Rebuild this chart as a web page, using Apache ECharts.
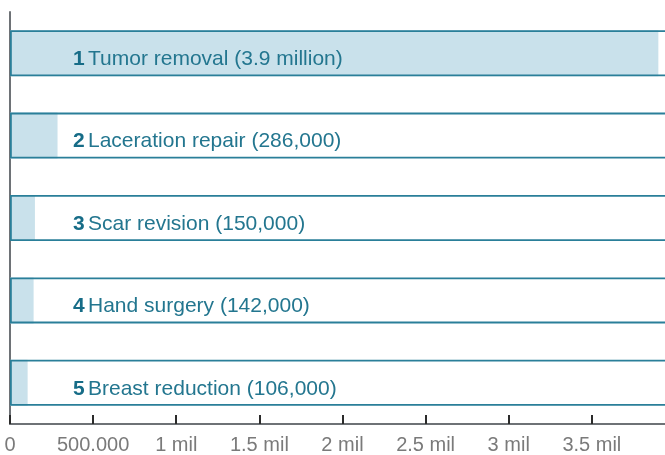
<!DOCTYPE html>
<html>
<head>
<meta charset="utf-8">
<script src="https://cdn.jsdelivr.net/npm/echarts@6/dist/echarts.min.js"></script>
<style>
  html, body { margin: 0; padding: 0; background: #fff; }
  #chart { width: 665px; height: 455px; }
</style>
</head>
<body>
<div id="chart"></div>
<script>
// procedures, top to bottom
var ranks = ["1", "2", "3", "4", "5"];
var procedures = ["Tumor removal", "Laceration repair", "Scar revision", "Hand surgery", "Breast reduction"];
var valueLabels = ["3.9 million", "286,000", "150,000", "142,000", "106,000"];
var counts = [3900000, 286000, 150000, 142000, 106000];
var axisMax = 3940000;

// full-width band behind each bar (runs past the right edge)
var frame = counts.map(function () { return axisMax * 1.03; });

var font = "Liberation Sans";

var chart = echarts.init(document.getElementById("chart"));
chart.setOption({
  animation: false,
  grid: { left: 10, right: 0, top: 12, bottom: 31 },
  xAxis: {
    type: "value",
    min: 0,
    max: axisMax,
    interval: 500000,
    axisLine: { show: true, lineStyle: { color: "#6e7276", width: 2 } },
    axisTick: { show: true, inside: true, length: 9, lineStyle: { color: "#2b2b2b", width: 2 } },
    splitLine: { show: false },
    axisLabel: {
      showMaxLabel: false,
      margin: 11,
      color: "#7a7a7a",
      fontFamily: font,
      fontSize: 20,
      formatter: function (v) {
        if (v === 0) return "0";
        if (v === 500000) return "500.000";
        if (v % 500000 !== 0) return "";
        return (v / 1000000) + " mil";
      }
    }
  },
  yAxis: {
    type: "category",
    inverse: true,
    data: procedures,
    axisLine: { show: true, lineStyle: { color: "#6e7276", width: 2 } },
    axisTick: { show: false },
    axisLabel: { show: false }
  },
  series: [
    {
      type: "bar",
      data: counts,
      barWidth: 46,
      itemStyle: { color: "#c9e1eb" },
      z: 2
    },
    {
      type: "bar",
      data: frame,
      barWidth: 46,
      barGap: "-100%",
      clip: false,
      silent: true,
      z: 3,
      itemStyle: { color: "rgba(0,0,0,0)", borderColor: "#2a7f99", borderWidth: 1.8 },
      label: {
        show: true,
        position: [63, "50%"],
        offset: [0, 6],
        verticalAlign: "middle",
        formatter: function (p) {
          var i = p.dataIndex;
          return "{n|" + ranks[i] + "} {t|" + procedures[i] + " (" + valueLabels[i] + ")}";
        },
        rich: {
          n: { fontFamily: font, fontWeight: "bold", fontSize: 21, color: "#166c87" },
          t: { fontFamily: font, fontSize: 21, color: "#23768f" }
        }
      }
    }
  ]
});
</script>
</body>
</html>
